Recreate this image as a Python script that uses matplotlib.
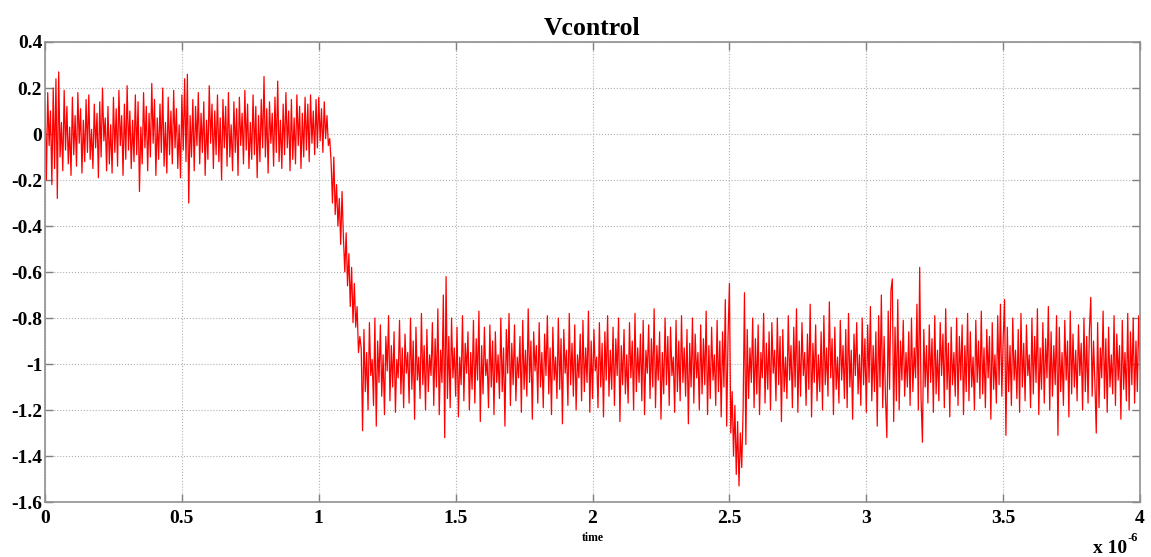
import numpy as np
import matplotlib
matplotlib.use("Agg")
import matplotlib.pyplot as plt

# Vcontrol samples, every 0.005 us
# 0.000 .. 1.035 us : settled around 0
v_pre = [
    0.14, -0.20, 0.18, -0.05, 0.10, -0.22, 0.20, -0.15, 0.24, -0.28, 0.27, -0.10, 0.05, -0.16, 0.19, -0.07,
    0.12, -0.13, 0.03, -0.18, 0.16, -0.09, 0.08, -0.14, 0.18, -0.04, 0.11, -0.17, 0.06, -0.12, 0.15, -0.08,
    0.17, -0.11, 0.02, -0.15, 0.13, -0.06, 0.09, -0.19, 0.14, -0.10, 0.20, -0.03, 0.07, -0.16, 0.12, -0.13,
    0.04, -0.17, 0.16, -0.08, 0.11, -0.14, 0.19, -0.05, 0.08, -0.18, 0.13, -0.11, 0.21, -0.07, 0.10, -0.15,
    0.06, -0.12, 0.17, -0.09, 0.14, -0.25, 0.03, -0.13, 0.18, -0.06, 0.12, -0.16, 0.09, -0.10, 0.22, -0.04,
    0.15, -0.18, 0.07, -0.11, 0.13, -0.08, 0.20, -0.14, 0.05, -0.17, 0.16, -0.09, 0.10, -0.13, 0.19, -0.06,
    0.11, -0.15, 0.04, -0.19, 0.17, -0.07, 0.24, -0.12, 0.26, -0.30, 0.08, -0.10, 0.15, -0.16, 0.12, -0.05,
    0.18, -0.13, 0.09, -0.08, 0.14, -0.18, 0.06, -0.11, 0.21, -0.04, 0.13, -0.15, 0.10, -0.09, 0.17, -0.12,
    0.07, -0.20, 0.15, -0.06, 0.12, -0.14, 0.18, -0.10, 0.04, -0.16, 0.14, -0.08, 0.11, -0.18, 0.16, -0.05,
    0.09, -0.13, 0.19, -0.07, 0.13, -0.15, 0.05, -0.11, 0.17, -0.09, 0.12, -0.19, 0.08, -0.12, 0.15, -0.06,
    0.25, -0.10, 0.11, -0.17, 0.14, -0.04, 0.09, -0.14, 0.16, -0.08, 0.23, -0.12, 0.06, -0.15, 0.13, -0.09,
    0.18, -0.06, 0.10, -0.16, 0.15, -0.11, 0.07, -0.13, 0.17, -0.05, 0.12, -0.15, 0.09, -0.10, 0.16, -0.07,
    0.13, -0.12, 0.17, -0.04, 0.10, -0.09, 0.15, -0.06, 0.16, -0.03, 0.11, -0.08, 0.14, -0.02, 0.08, -0.05,
]
# 1.040 .. 1.150 us : step down
v_drop = [
    -0.02, -0.12, -0.30, -0.10, -0.35, -0.22, -0.40, -0.28, -0.48, -0.25, -0.45, -0.60,
    -0.43, -0.66, -0.52, -0.75, -0.58, -0.82, -0.65, -0.84, -0.75, -0.95, -0.88,
]
# 1.155 .. 4.000 us : settled around -1
v_post = [
    -0.93, -1.29, -0.85, -1.12, -0.95, -1.20, -0.82, -1.05, -0.98, -1.18, -0.80, -1.27, -0.90, -1.08, -0.83, -1.14,
    -0.96, -1.22, -0.88, -1.03, -0.79, -1.16, -0.92, -1.10, -0.86, -1.21, -0.98, -1.06, -0.81, -1.13, -0.93, -1.19,
    -0.87, -1.04, -0.95, -1.17, -0.80, -1.11, -0.90, -1.24, -0.84, -1.07, -0.97, -1.15, -0.78, -1.09, -0.92, -1.20,
    -0.85, -1.12, -0.96, -1.05, -0.82, -1.18, -0.89, -1.10, -0.76, -1.22, -0.94, -1.08, -0.70, -1.32, -0.62, -1.15,
    -0.88, -1.19, -0.80, -1.06, -0.93, -1.14, -0.84, -1.23, -0.97, -1.09, -0.79, -1.16, -0.91, -1.04, -0.86, -1.20,
    -0.95, -1.11, -0.81, -1.17, -0.89, -1.07, -0.77, -1.25, -0.92, -1.13, -0.84, -1.05, -0.98, -1.19, -0.83, -1.10,
    -0.90, -1.22, -0.86, -1.08, -0.96, -1.15, -0.80, -1.12, -0.93, -1.27, -0.85, -1.04, -0.78, -1.18, -0.91, -1.09,
    -0.83, -1.16, -0.97, -1.06, -0.88, -1.21, -0.81, -1.11, -0.94, -1.14, -0.76, -1.08, -0.90, -1.24, -0.86, -1.03,
    -0.92, -1.17, -0.82, -1.10, -0.95, -1.19, -0.87, -1.05, -0.79, -1.13, -0.93, -1.22, -0.84, -1.07, -0.97, -1.15,
    -0.80, -1.11, -0.89, -1.26, -0.85, -1.04, -0.94, -1.18, -0.78, -1.09, -0.91, -1.14, -0.83, -1.20, -0.96, -1.06,
    -0.87, -1.16, -0.81, -1.12, -0.93, -1.08, -0.77, -1.21, -0.90, -1.15, -0.85, -1.03, -0.97, -1.19, -0.82, -1.10,
    -0.91, -1.23, -0.86, -1.07, -0.79, -1.14, -0.94, -1.11, -0.84, -1.18, -0.89, -1.05, -0.80, -1.25, -0.92, -1.09,
    -0.85, -1.13, -0.96, -1.17, -0.82, -1.06, -0.90, -1.20, -0.78, -1.12, -0.93, -1.08, -0.87, -1.16, -0.81, -1.22,
    -0.94, -1.04, -0.83, -1.15, -0.89, -1.10, -0.76, -1.19, -0.92, -1.07, -0.86, -1.24, -0.95, -1.13, -0.80, -1.09,
    -0.88, -1.18, -0.84, -1.05, -0.97, -1.21, -0.81, -1.12, -0.90, -1.16, -0.79, -1.08, -0.93, -1.14, -0.85, -1.26,
    -0.91, -1.10, -0.80, -1.17, -0.87, -1.06, -0.95, -1.20, -0.83, -1.13, -0.89, -1.09, -0.77, -1.22, -0.92, -1.15,
    -0.84, -1.07, -0.96, -1.18, -0.81, -1.12, -0.90, -1.23, -0.86, -1.10, -0.72, -1.27, -0.88, -0.65, -1.30, -1.12,
    -1.40, -1.18, -1.48, -1.25, -1.53, -1.30, -1.45, -1.20, -0.69, -1.35, -0.85, -1.15, -0.93, -1.08, -0.80, -1.19,
    -0.89, -1.13, -0.83, -1.22, -0.95, -1.06, -0.78, -1.17, -0.91, -1.11, -0.86, -1.20, -0.82, -1.04, -0.94, -1.16,
    -0.80, -1.09, -0.88, -1.25, -0.85, -1.12, -0.97, -1.15, -0.79, -1.07, -0.92, -1.19, -0.84, -1.10, -0.76, -1.21,
    -0.90, -1.14, -0.82, -1.05, -0.95, -1.18, -0.87, -1.11, -0.74, -1.23, -0.91, -1.08, -0.83, -1.16, -0.96, -1.12,
    -0.86, -1.20, -0.79, -1.09, -0.93, -1.14, -0.73, -1.06, -0.89, -1.22, -0.84, -1.11, -0.97, -1.17, -0.81, -1.07,
    -0.92, -1.15, -0.85, -1.19, -0.78, -1.10, -0.94, -1.24, -0.87, -1.05, -0.82, -1.13, -0.96, -1.18, -0.80, -1.09,
    -0.89, -1.21, -0.83, -1.08, -0.75, -1.16, -0.92, -1.12, -0.86, -1.27, -0.79, -1.10, -0.70, -1.19, -0.88, -1.14,
    -1.32, -0.77, -1.11, -0.68, -0.63, -1.25, -0.84, -1.16, -0.72, -1.20, -0.90, -1.07, -0.81, -1.14, -0.95, -1.10,
    -0.86, -1.18, -0.80, -1.12, -0.93, -1.06, -0.74, -1.20, -0.58, -1.15, -1.34, -0.85, -1.10, -0.92, -1.17, -0.83,
    -1.08, -0.89, -1.21, -0.79, -1.13, -0.94, -1.16, -0.82, -1.05, -0.87, -1.19, -0.76, -1.11, -0.91, -1.23, -0.84,
    -1.09, -0.95, -1.14, -0.80, -1.18, -0.88, -1.07, -0.83, -1.22, -0.92, -1.12, -0.78, -1.16, -0.86, -1.10, -0.97,
    -1.20, -0.81, -1.08, -0.90, -1.15, -0.77, -1.13, -0.93, -1.19, -0.85, -1.06, -0.88, -1.24, -0.82, -1.11, -0.96,
    -1.17, -0.79, -1.09, -0.74, -1.14, -0.89, -0.72, -1.31, -0.84, -1.12, -0.92, -1.18, -0.80, -1.07, -0.94, -1.15,
    -0.85, -1.21, -0.78, -1.10, -0.91, -1.16, -0.83, -1.05, -0.96, -1.19, -0.80, -1.13, -0.88, -1.08, -0.76, -1.22,
    -0.93, -1.11, -0.82, -1.17, -0.89, -1.06, -0.75, -1.20, -0.86, -1.14, -0.92, -1.09, -0.79, -1.31, -0.84, -1.12,
    -0.95, -1.18, -0.81, -1.07, -0.90, -1.23, -0.77, -1.13, -0.87, -1.10, -0.94, -1.16, -0.83, -1.05, -0.91, -1.20,
    -0.80, -1.12, -0.88, -1.17, -0.85, -0.71, -1.14, -0.90, -1.08, -1.30, -0.82, -1.19, -0.93, -1.06, -0.77, -1.15,
    -0.89, -1.21, -0.84, -1.10, -0.96, -1.13, -0.79, -1.18, -0.87, -1.07, -0.92, -1.24, -0.81, -1.11, -0.95, -1.16,
    -0.78, -1.20, -0.86, -1.09, -0.80, -1.17, -0.90, -1.12, -0.79, -1.02,
]

v = np.array(v_pre + v_drop + v_post)
t = np.linspace(0, 4e-6, len(v))

xticks = [0, 0.5, 1, 1.5, 2, 2.5, 3, 3.5, 4]
yticks = [-1.6, -1.4, -1.2, -1, -0.8, -0.6, -0.4, -0.2, 0, 0.2, 0.4]

plt.rcParams['font.family'] = ['Liberation Serif', 'DejaVu Serif']
plt.rcParams['font.weight'] = 'bold'

fig = plt.figure(figsize=(11.51, 5.57), dpi=100)
ax = fig.add_axes([0.0391, 0.0987, 0.9514, 0.8259])

ax.plot(t * 1e6, v, color='red', lw=0.9)

ax.set_xlim(0, 4)
ax.set_ylim(-1.6, 0.4)
ax.set_xticks(xticks)
ax.set_xticklabels(['0', '0.5', '1', '1.5', '2', '2.5', '3', '3.5', '4'])
ax.set_yticks(yticks)
ax.set_yticklabels(['-1.6', '-1.4', '-1.2', '-1', '-0.8', '-0.6', '-0.4', '-0.2', '0', '0.2', '0.4'])
ax.tick_params(direction='in', length=6, width=1, color='#808080',
               top=True, right=True, labelsize=14)
ax.tick_params(axis='x', pad=6)
ax.tick_params(axis='y', pad=2)
for s in ax.spines.values():
    s.set_color('#909090')
    s.set_linewidth(1.2)
ax.grid(True, ls=':', color='#b0b0b0', lw=0.8)

ax.set_title('Vcontrol', fontsize=18.5, fontweight='bold', pad=5)
ax.set_xlabel('time', fontsize=8.5, fontweight='bold', labelpad=3)
fig.text(0.9496, 0.0072, 'x 10', fontsize=14, fontweight='bold', ha='left', va='baseline')
fig.text(0.9800, 0.0287, '-6', fontsize=9, fontweight='bold', ha='left', va='baseline')

fig.savefig('out.png', dpi=100)
